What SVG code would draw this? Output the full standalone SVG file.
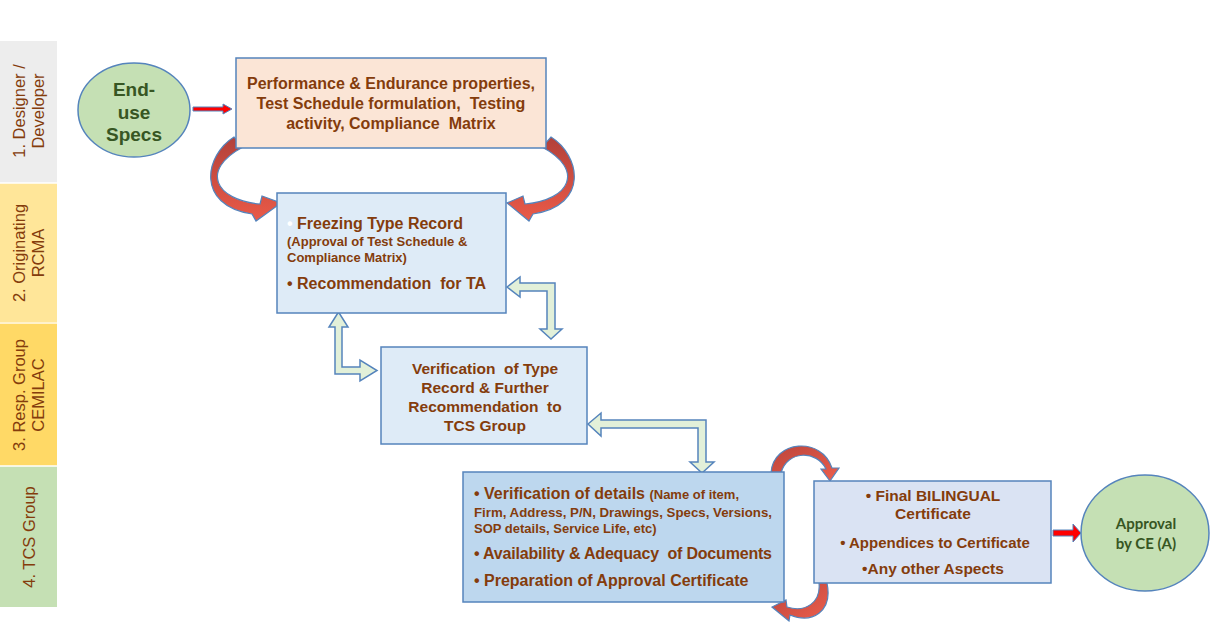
<svg xmlns="http://www.w3.org/2000/svg" width="1228" height="622" viewBox="0 0 1228 622">
<defs>
<linearGradient id="redGrad" x1="0" y1="0" x2="0" y2="1">
<stop offset="0" stop-color="#B2413A"/>
<stop offset="1" stop-color="#EA5A48"/>
</linearGradient>
<linearGradient id="redGradS" x1="0" y1="0" x2="1" y2="1">
<stop offset="0" stop-color="#BC453C"/>
<stop offset="1" stop-color="#EC5E4C"/>
</linearGradient>
<style>
.lane-t{font-family:"Liberation Sans",Arial,sans-serif;font-size:16.5px;fill:#843C0C;text-anchor:middle}
.box{stroke:#5584BC;stroke-width:1.5}
.t{font-family:"Liberation Sans",Arial,sans-serif;font-weight:bold;fill:#843C0C;white-space:pre}
.c{text-anchor:middle}
.f16{font-size:16px}
.f15{font-size:15.5px}
.f13{font-size:13px}
.green{font-family:"Liberation Sans",Arial,sans-serif;font-weight:bold;fill:#375623;text-anchor:middle}
.calib{font-family:Lato,"Liberation Sans",sans-serif;font-weight:bold;fill:#375623;text-anchor:middle;font-size:15px}
.dbl{fill:#E2F0D9;stroke:#5584BC;stroke-width:1.5;stroke-linejoin:miter}
.red{fill:#FF0000;stroke:#5584BC;stroke-width:1}
.curve{fill:url(#redGrad);stroke:#5584BC;stroke-width:1.2}
.curveS{fill:url(#redGradS);stroke:#5584BC;stroke-width:1.2}
</style>
</defs>
<rect width="1228" height="622" fill="#FFFFFF"/>
<g id="lanes">
<rect x="0" y="41" width="57" height="142" fill="#EDEDED"/>
<rect x="0" y="183" width="57" height="140" fill="#FFE699"/>
<rect x="0" y="323" width="57" height="143" fill="#FFD966"/>
<rect x="0" y="466" width="57" height="141" fill="#C5E0B4"/>
<line x1="0" y1="183" x2="57" y2="183" stroke="#FFFFFF" stroke-width="1.5"/>
<line x1="0" y1="323" x2="57" y2="323" stroke="#FFF2CC" stroke-width="2"/>
<line x1="0" y1="466" x2="57" y2="466" stroke="#FFFFFF" stroke-width="1.5"/>
<text class="lane-t" transform="translate(25,111) rotate(-90)">1. Designer /</text>
<text class="lane-t" transform="translate(44,111) rotate(-90)">Developer</text>
<text class="lane-t" transform="translate(25,253) rotate(-90)">2. Originating</text>
<text class="lane-t" transform="translate(44,253) rotate(-90)">RCMA</text>
<text class="lane-t" transform="translate(25,395) rotate(-90)">3. Resp. Group</text>
<text class="lane-t" transform="translate(44,395) rotate(-90)">CEMILAC</text>
<text class="lane-t" transform="translate(35,537) rotate(-90)">4. TCS Group</text>
</g>
<g id="connectors">
<path class="curve" d="M 234,137 C 205,155 195,205 252,214 L 256,221 L 281,203 L 262,196 L 260,204 C 215,200 200,170 243,147 Z"/>
<path class="curve" d="M 551,137 C 580,155 590,205 533,214 L 529,221 L 507,203 L 523,196 L 525,204 C 570,200 585,170 542,147 Z"/>
<path class="curveS" d="M 771,473 C 773,440 822,436 832,468 L 839,468 L 830,481 L 821,469 L 826,469 C 817,450 787,450 781,473 Z"/>
<path class="curveS" d="M 827,583 C 833,612 812,624 790,615 L 789,621 L 772,607 L 786,600 L 787,607 C 806,613 821,602 819,583 Z"/>
<polygon class="red" points="193,107 223,107 223,104 232,109 223,114 223,111 193,111"/>
<polygon class="red" points="1053,530 1073,530 1073,524 1081,533 1073,542 1073,536 1053,536"/>
<polygon class="dbl" points="507,287 520,277 520,283 555,283 555,329 562,329 551,339 540,329 547,329 547,291 520,291 520,297"/>
<polygon class="dbl" points="338.5,312 348,327 342,327 342,367 360,367 360,360 377,370.5 360,381 360,374 335,374 335,327 329,327"/>
<polygon class="dbl" points="588,424 601,413 601,420 706,420 706,462 714,462 702,473 690,462 698,462 698,428 601,428 601,436"/>
</g>
<g id="node-enduse">
<ellipse cx="134" cy="110" rx="56" ry="47" fill="#C5E0B4" stroke="#5584BC" stroke-width="1.5"/>
<text class="green" font-size="19" x="134" y="96">End-</text>
<text class="green" font-size="19" x="134" y="119">use</text>
<text class="green" font-size="19" x="134" y="141">Specs</text>
</g>
<g id="node-designer">
<rect class="box" x="236" y="58" width="310" height="90" fill="#FBE5D6"/>
<text class="t c f16" x="391" y="89">Performance &amp; Endurance properties,</text>
<text class="t c f16" x="391" y="109">Test Schedule formulation,  Testing</text>
<text class="t c f16" x="391" y="129">activity, Compliance  Matrix</text>
</g>
<g id="node-rcma">
<rect class="box" x="277" y="193" width="229" height="120" fill="#DEEBF7"/>
<text class="t f16" x="287" y="229"><tspan fill="#FFFFFF">•</tspan> Freezing Type Record</text>
<text class="t f13" x="287" y="246">(Approval of Test Schedule &amp;</text>
<text class="t f13" x="287" y="262">Compliance Matrix)</text>
<text class="t f16" x="287" y="289">• Recommendation  for TA</text>
</g>
<g id="node-cemilac">
<rect class="box" x="381" y="347" width="206" height="97" fill="#DEEBF7"/>
<text class="t c f15" x="485" y="374">Verification  of Type</text>
<text class="t c f15" x="485" y="393">Record &amp; Further</text>
<text class="t c f15" x="485" y="412">Recommendation  to</text>
<text class="t c f15" x="485" y="431">TCS Group</text>
</g>
<g id="node-tcs">
<rect class="box" x="463" y="472" width="321" height="130" fill="#BDD7EE"/>
<text class="t" x="474" y="499"><tspan class="f16">• Verification of details </tspan><tspan class="f13">(Name of item,</tspan></text>
<text class="t f13" x="474" y="517" textLength="298" lengthAdjust="spacingAndGlyphs">Firm, Address, P/N, Drawings, Specs, Versions,</text>
<text class="t f13" x="474" y="533">SOP details, Service Life, etc)</text>
<text class="t f16" x="474" y="559" textLength="298" lengthAdjust="spacing">• Availability &amp; Adequacy  of Documents</text>
<text class="t f16" x="474" y="586">• Preparation of Approval Certificate</text>
</g>
<g id="node-certificate">
<rect class="box" x="814" y="481" width="237" height="102" fill="#DAE3F3"/>
<text class="t c f15" x="933" y="501">• Final BILINGUAL</text>
<text class="t c f15" x="933" y="519">Certificate</text>
<text class="t c f15" x="935" y="548" style="font-size:15px">• Appendices to Certificate</text>
<text class="t c f15" x="933" y="574">•Any other Aspects</text>
</g>
<g id="node-approval">
<ellipse cx="1145" cy="533" rx="64" ry="58" fill="#C5E0B4" stroke="#5584BC" stroke-width="1.5"/>
<text class="calib" x="1146" y="529">Approval</text>
<text class="calib" x="1146" y="549">by CE (A)</text>
</g>
</svg>
